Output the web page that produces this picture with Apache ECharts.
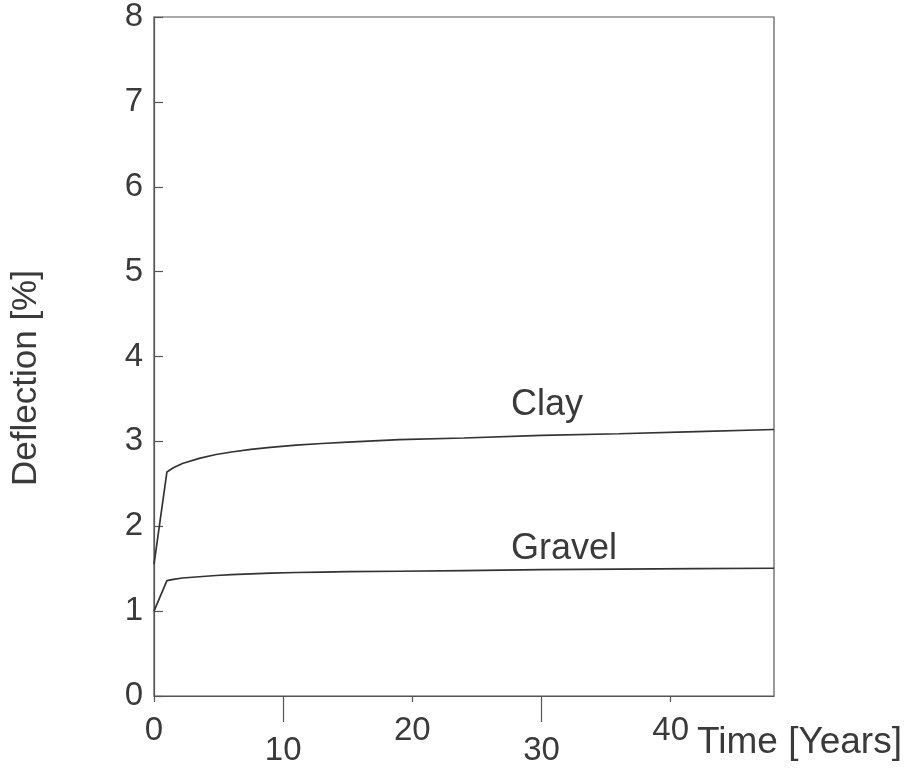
<!DOCTYPE html>
<html>
<head>
<meta charset="utf-8">
<script src="https://cdn.jsdelivr.net/npm/echarts@6/dist/echarts.min.js"></script>
<style>
  html, body { margin: 0; padding: 0; background: #fff; }
  #chart { width: 909px; height: 770px; }
</style>
</head>
<body>
<div id="chart"></div>
<script>
// Time after installation (years)
const years  = [0, 1, 1.5, 2.2, 3.5, 4.8, 6, 7.5, 9, 11, 13, 15, 19, 24, 30, 36, 42, 48];
// Pipe deflection (%) for each bedding soil
const clay   = [1.55, 2.64, 2.69, 2.74, 2.80, 2.845, 2.875, 2.905, 2.93, 2.955, 2.975, 2.99, 3.02, 3.04, 3.07, 3.09, 3.115, 3.14];
const gravel = [1.00, 1.36, 1.375, 1.39, 1.405, 1.42, 1.43, 1.44, 1.447, 1.455, 1.46, 1.465, 1.47, 1.478, 1.488, 1.495, 1.50, 1.505];

// Axis ticks: labels alternate between two rows
const xTicksUpper = [0, 20, 40];
const xTicksLower = [10, 30];
const yTicks = [0, 1, 2, 3, 4, 5, 6, 7, 8];

const FONT = "'Liberation Sans', Arial, Helvetica, sans-serif";
const TEXT = '#3a3a3a';
const AXIS = '#555';
const LINE = '#333';

const pairs = (xs, ys) => xs.map((x, i) => [x, ys[i]]);

const chart = echarts.init(document.getElementById('chart'), null, { renderer: 'canvas' });

chart.setOption({
  backgroundColor: '#fff',
  animation: false,
  grid: {
    left: 154, right: 135, top: 17, bottom: 74,
    show: true, borderColor: AXIS, borderWidth: 1.2, backgroundColor: 'transparent'
  },
  xAxis: [
    {
      type: 'value', min: 0, max: 48, position: 'bottom',
      axisLine: { show: true, onZero: false, lineStyle: { color: AXIS, width: 1.2 } },
      axisTick: { show: true, inside: false, length: 6, customValues: xTicksUpper, lineStyle: { color: AXIS, width: 1.2 } },
      axisLabel: { customValues: xTicksUpper, margin: 18, fontSize: 33, color: TEXT, fontFamily: FONT },
      splitLine: { show: false }
    },
    {
      type: 'value', min: 0, max: 48, position: 'bottom',
      axisLine: { show: false },
      axisTick: { show: true, inside: false, length: 26, customValues: xTicksLower, lineStyle: { color: AXIS, width: 1.2 } },
      axisLabel: { customValues: xTicksLower, margin: 38, fontSize: 33, color: TEXT, fontFamily: FONT },
      splitLine: { show: false }
    }
  ],
  yAxis: {
    type: 'value', min: 0, max: 8, interval: 1,
    axisLine: { show: true, onZero: false, lineStyle: { color: AXIS, width: 1.2 } },
    axisTick: { show: true, inside: true, length: 9, customValues: yTicks, lineStyle: { color: AXIS, width: 1.2 } },
    axisLabel: { margin: 11, fontSize: 33, color: TEXT, fontFamily: FONT, padding: [8, 0, 0, 0] },
    splitLine: { show: false }
  },
  graphic: [
    {
      type: 'text', left: 697, top: 724,
      style: { text: 'Time [Years]', fontSize: 37, fill: TEXT, fontFamily: FONT }
    },
    {
      type: 'text', x: 26, y: 378, rotation: Math.PI / 2,
      style: { text: 'Deflection [%]', fontSize: 35, fill: TEXT, fontFamily: FONT, align: 'center', verticalAlign: 'middle' }
    },
    {
      type: 'text', left: 511, top: 387,
      style: { text: 'Clay', fontSize: 36, fill: TEXT, fontFamily: FONT }
    },
    {
      type: 'text', left: 511, top: 531,
      style: { text: 'Gravel', fontSize: 36, fill: TEXT, fontFamily: FONT }
    }
  ],
  series: [
    {
      name: 'Clay', type: 'line', xAxisIndex: 0, data: pairs(years, clay),
      showSymbol: false, lineStyle: { color: LINE, width: 1.7 }
    },
    {
      name: 'Gravel', type: 'line', xAxisIndex: 0, data: pairs(years, gravel),
      showSymbol: false, lineStyle: { color: LINE, width: 1.7 }
    }
  ]
});
</script>
</body>
</html>
